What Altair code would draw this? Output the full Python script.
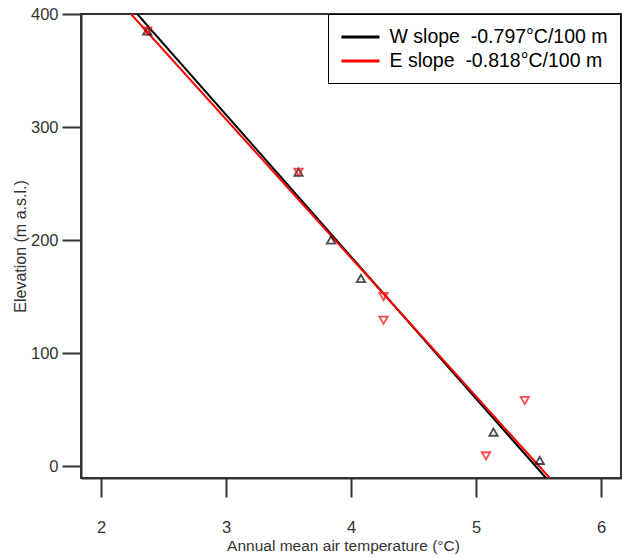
import altair as alt
import pandas as pd

# Observations
w_temp = [2.37, 3.58, 3.84, 4.08, 5.14, 5.51]
w_elev = [385, 260, 200, 166, 30, 5]
e_temp = [2.37, 3.58, 4.26, 4.26, 5.08, 5.39]
e_elev = [385, 260, 150, 129, 9, 58]

# Fitted lines (end points)
w_fit_temp = [2.29, 5.56]
w_fit_elev = [400, -10.6]
e_fit_temp = [2.24, 5.59]
e_fit_elev = [400, -10.6]

series = ["W slope\u00a0\u00a0-0.797°C/100 m", "E slope\u00a0\u00a0-0.818°C/100 m"]
colors = ["#000000", "#ff0000"]

x_ticks = [2, 3, 4, 5, 6]
y_ticks = [0, 100, 200, 300, 400]
x_domain = [1.84, 6.16]
y_domain = [-10.6, 400]

FONT = "Liberation Sans"

w_df = pd.DataFrame({"temp": w_temp, "elev": w_elev})
e_df = pd.DataFrame({"temp": e_temp, "elev": e_elev})
fit_df = pd.DataFrame({
    "temp": w_fit_temp + e_fit_temp,
    "elev": w_fit_elev + e_fit_elev,
    "series": [series[0]] * len(w_fit_temp) + [series[1]] * len(e_fit_temp),
})

x_enc = alt.X("temp:Q",
              scale=alt.Scale(domain=x_domain, nice=False, zero=False),
              axis=alt.Axis(values=x_ticks, title="Annual mean air temperature (°C)",
                            format="d", grid=False, tickSize=19, labelPadding=22,
                            titlePadding=3, titleX=262, titleAlign="center",
                            titleFontSize=15.5))
y_enc = alt.Y("elev:Q",
              scale=alt.Scale(domain=y_domain, nice=False, zero=False),
              axis=alt.Axis(values=y_ticks, title="Elevation (m a.s.l.)",
                            format="d", grid=False, tickSize=19, labelPadding=4,
                            titlePadding=2, titleFontSize=16))

lines = alt.Chart(fit_df).mark_line(strokeWidth=2, clip=True).encode(
    x=x_enc, y=y_enc,
    color=alt.Color("series:N",
                    scale=alt.Scale(domain=series, range=colors),
                    sort=series,
                    legend=alt.Legend(
                        title=None, orient="none", legendX=247, legendY=0,
                        symbolType="M-2,0H2", symbolSize=361, symbolStrokeWidth=3,
                        symbolOffset=9.5, labelOffset=18,
                        labelFontSize=19.5, labelFont=FONT, labelColor="#000",
                        labelLimit=500, rowPadding=3, padding=12,
                        strokeColor="#000", fillColor="#fff")),
)

w_pts = alt.Chart(w_df).mark_point(shape="triangle-up", filled=False, size=70,
                                   strokeWidth=1.8, color="#000", clip=True).encode(
    x="temp:Q", y="elev:Q")
e_pts = alt.Chart(e_df).mark_point(shape="triangle-down", filled=False, size=70,
                                   strokeWidth=1.8, color="#ff0000", clip=True).encode(
    x="temp:Q", y="elev:Q")

chart = alt.layer(lines, w_pts, e_pts).properties(
    width=540, height=464,
    autosize=alt.AutoSizeParams(type="none"),
    padding={"left": 81, "top": 14, "right": 1, "bottom": 80},
).configure_view(
    stroke="#333", strokeWidth=2
).configure_axis(
    domainColor="#333", domainWidth=2, tickColor="#333", tickWidth=2,
    labelFont=FONT, labelFontSize=16.5, labelColor="#333",
    titleFont=FONT, titleColor="#333", titleFontWeight="normal",
)

chart.save("out.html", embed_options={"renderer": "svg", "actions": False})
